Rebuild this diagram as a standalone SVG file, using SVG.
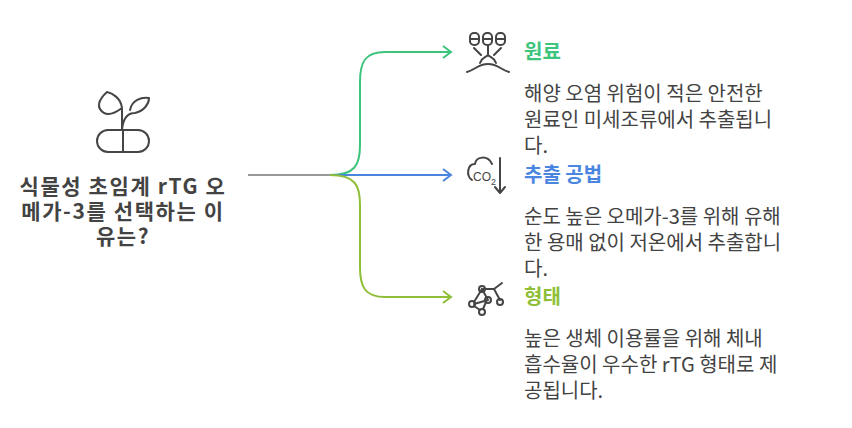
<svg xmlns="http://www.w3.org/2000/svg" width="852" height="428" viewBox="0 0 852 428">
<style>
.t{font-family:"Noto Sans CJK KR","Liberation Sans",sans-serif;font-size:20px;fill:#434343}
.b{font-weight:bold}
.ic{fill:none;stroke:#454545;stroke-width:2;stroke-linecap:round;stroke-linejoin:round}
.c{fill:none;stroke-width:2}
</style>
<rect width="852" height="428" fill="#fff"/>
<g id="connectors">
<path class="c" stroke="#999" d="M248 175H330"/>
<path class="c" stroke="#3cc47c" d="M330 175C355 175 360 165 360 145V82C360 62 365 52 385 52H450"/>
<path class="c" stroke="#3cc47c" d="M443 46L451 52L443 58"/>
<path class="c" stroke="#4a86e0" d="M330 175H450M443 169L451 175L443 181"/>
<path class="c" stroke="#8fbf38" d="M330 175C355 175 360 185 360 205V267C360 287 365 297 385 297H450"/>
<path class="c" stroke="#8fbf38" d="M443 291L451 297L443 303"/>
</g>
<g id="root">
<g class="ic">
<path d="M122 130V108M122 108C121 98 112 93 107 92C98 100 96 108 104 113C110 116 118 111 122 108"/>
<path d="M122 130C123 118 128 113 135 113C144 111 149 104 149 98C141 97 132 100 130 110"/>
<rect x="97" y="130" width="52" height="22" rx="11"/><path d="M123 130V152"/>
</g>
<text class="t b" text-anchor="middle" style="font-size:21px;letter-spacing:1.6px"><tspan x="123" y="194">식물성 초임계 rTG 오</tspan><tspan x="123" y="219">메가-3를 선택하는 이</tspan><tspan x="123" y="244">유는?</tspan></text>
</g>
<g id="n1">
<g class="ic"><rect x="470" y="33" width="9" height="12" rx="4"/><rect x="483" y="33" width="9" height="12" rx="4"/><rect x="496" y="33" width="9" height="12" rx="4"/><path d="M470 39H479M483 39H492M496 39H505M474 48L481 55M488 45V54M501 48L494 55M480 63C482 57 485 58 488 55C491 58 494 57 496 63M467 72C475 70 478 64 488 64C498 64 501 70 509 72"/></g>
<text class="t b" x="524" y="59" style="fill:#3cc47c">원료</text>
<text class="t"><tspan x="524" y="101">해양 오염 위험이 적은 안전한</tspan><tspan x="524" y="127">원료인 미세조류에서 추출됩니</tspan><tspan x="524" y="153">다.</tspan></text>
</g>
<g id="n2">
<g class="ic"><path d="M492 164C488 155 476 156 475 164C467 164 466 176 472 180M500 158V193M495 187L500 193L505 187"/></g>
<text x="473" y="181" style="font-family:'Liberation Sans',sans-serif;font-size:12px;fill:#454545">CO</text><text x="491" y="185" style="font-family:'Liberation Sans',sans-serif;font-size:9px;fill:#454545">2</text>
<text class="t b" x="524" y="182" style="fill:#4a86e0">추출 공법</text>
<text class="t"><tspan x="524" y="224">순도 높은 오메가-3를 위해 유해</tspan><tspan x="524" y="250">한 용매 없이 저온에서 추출합니</tspan><tspan x="524" y="276">다.</tspan></text>
</g>
<g id="n3">
<g class="ic"><path d="M482 289H494L502 283M494 289L500 300M482 289L474 302M482 289L488 300L474 304"/><circle cx="482" cy="289" r="3"/><circle cx="488" cy="300" r="3"/><circle cx="472" cy="304" r="3"/><circle cx="500" cy="302" r="3"/><circle cx="482" cy="312" r="3"/><path d="M474 306L480 310M486 302L483 309"/></g>
<text class="t b" x="524" y="304" style="fill:#8fbf38">형태</text>
<text class="t"><tspan x="524" y="346">높은 생체 이용률을 위해 체내</tspan><tspan x="524" y="372">흡수율이 우수한 rTG 형태로 제</tspan><tspan x="524" y="398">공됩니다.</tspan></text>
</g>
</svg>
